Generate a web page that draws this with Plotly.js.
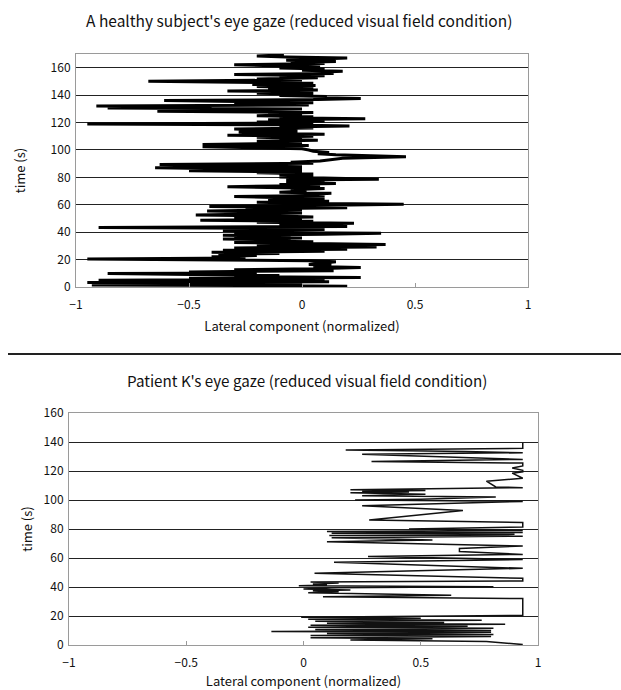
<!DOCTYPE html>
<html>
<head>
<meta charset="utf-8">
<script src="https://cdn.plot.ly/plotly-3.0.1.min.js"></script>
<style>
html,body{margin:0;padding:0;background:#fff;}
#chart{width:621px;height:690px;}
</style>
</head>
<body>
<div id="chart"></div>
<script>
// Healthy subject: lateral gaze component (x) vs time in s (t)
const healthyT = [0.0,0.5,1.0,1.5,2.2,2.8,3.3,3.8,4.5,5.0,5.6,6.3,7.0,7.6,8.3,9.0,9.8,10.3,11.0,11.9,12.6,13.3,14.3,15.0,15.8,16.5,17.3,18.4,19.2,19.8,20.5,21.2,22.0,23.0,23.8,24.5,25.3,26.0,26.8,27.5,28.5,29.2,30.0,31.0,31.7,32.4,33.0,33.7,34.4,35.0,35.7,36.4,37.0,37.8,38.5,39.2,39.8,40.5,41.3,42.0,42.8,43.5,44.2,45.0,45.8,46.5,47.2,48.0,48.7,49.5,50.2,51.0,51.8,52.5,53.2,54.0,54.8,55.5,56.3,57.0,57.8,58.7,59.5,60.3,61.0,61.8,62.5,63.5,64.3,65.2,66.0,66.8,67.6,68.4,69.2,70.0,71.0,71.8,72.5,73.2,74.0,74.8,75.6,76.4,77.2,78.0,78.6,79.4,80.2,81.0,81.8,82.5,83.3,84.0,84.8,85.5,86.3,87.0,87.8,88.6,89.4,90.2,91.0,92.0,93.0,94.0,95.0,95.8,96.5,97.3,98.2,99.0,100.0,100.8,101.6,102.4,103.2,104.0,104.8,105.5,106.3,107.0,107.8,108.5,109.3,110.0,110.8,111.5,112.3,113.0,113.8,114.5,115.2,116.0,116.8,117.5,118.3,119.0,119.7,120.4,121.2,122.0,122.8,123.5,124.3,125.0,125.8,126.6,127.4,128.2,129.0,129.8,130.6,131.4,132.0,132.8,133.6,134.4,135.2,136.0,136.8,137.5,138.3,139.0,139.8,140.6,141.4,142.2,143.0,143.8,144.6,145.4,146.2,147.0,147.8,148.6,149.4,150.2,151.0,151.8,152.6,153.4,154.2,155.0,155.8,156.6,157.4,158.2,159.0,159.8,160.6,161.4,162.2,163.0,163.8,164.6,165.4,166.2,167.0,167.8,168.6,169.3];
const healthyX = [0.05,0.2,-0.1,-0.93,-0.2,0.0,-0.95,0.12,-0.4,-0.9,0.1,-0.5,0.26,-0.3,-0.1,-0.6,-0.86,-0.2,-0.5,0.14,-0.3,0.05,0.26,0.05,0.13,0.03,0.1,0.15,0.03,-0.3,-0.95,-0.25,-0.4,-0.2,-0.37,-0.1,-0.4,0.1,-0.35,0.2,-0.3,0.33,-0.2,0.37,-0.1,-0.3,0.05,-0.25,-0.05,-0.35,0.0,-0.3,-0.05,-0.35,0.1,0.35,-0.3,-0.1,-0.35,0.1,-0.2,-0.9,0.2,-0.1,0.0,0.23,-0.2,0.05,-0.45,0.0,-0.3,0.05,-0.1,-0.47,-0.2,0.0,-0.15,-0.42,0.0,-0.25,0.2,-0.41,0.05,0.45,0.1,-0.2,0.12,-0.15,0.1,-0.1,-0.3,0.1,0.05,0.13,-0.1,0.02,-0.05,0.1,-0.15,-0.33,0.08,-0.1,0.15,-0.07,0.1,-0.07,0.34,0.05,-0.1,0.05,-0.1,0.05,-0.2,0.0,-0.5,0.0,-0.3,-0.65,0.0,-0.3,-0.63,0.05,-0.05,0.08,0.12,0.18,0.46,0.22,0.15,0.07,0.12,0.05,0.03,0.0,-0.3,-0.44,0.03,-0.44,-0.1,0.0,-0.2,0.07,-0.1,0.0,-0.2,0.05,-0.33,0.1,-0.2,-0.28,-0.02,-0.15,-0.3,0.05,-0.1,0.21,-0.1,-0.95,0.05,-0.2,0.1,-0.15,0.28,-0.1,0.05,-0.2,0.0,-0.15,0.05,-0.64,-0.2,0.0,-0.86,-0.4,-0.91,0.03,-0.3,0.05,-0.2,-0.61,0.07,0.26,0.05,0.11,-0.1,0.05,-0.2,0.05,-0.33,0.07,-0.15,0.05,-0.2,0.06,-0.22,0.05,-0.3,-0.68,0.0,-0.2,0.07,-0.1,0.1,-0.3,0.14,0.07,0.18,0.0,0.1,-0.1,0.08,-0.2,-0.3,0.1,-0.05,0.15,-0.07,0.05,0.2,-0.07,-0.2,-0.08];

// Patient K: lateral gaze component (x) vs time in s (t)
const patientT = [0.3,2.5,3.5,4.3,5.0,5.8,6.5,7.3,8.0,8.8,9.3,10.0,10.7,11.5,12.2,13.0,13.6,14.3,15.0,15.6,16.3,17.0,17.7,18.4,19.2,20.4,32.0,33.2,34.3,36.0,36.8,37.5,38.0,38.7,39.5,40.2,40.9,41.3,42.0,42.7,43.5,44.2,46.0,49.4,52.9,57.0,59.0,61.0,62.5,64.4,66.5,68.3,68.3,71.2,72.5,74.0,75.0,75.6,76.3,77.0,77.6,78.2,79.0,80.0,81.3,84.5,86.2,92.8,96.0,99.0,100.0,100.5,102.0,103.0,104.0,105.0,105.5,106.0,106.5,107.0,107.5,108.0,108.5,109.0,113.0,115.0,118.5,119.5,120.5,122.0,123.5,125.5,126.5,128.0,131.5,132.6,133.5,134.5,135.6,139.5,141.4,143.5,146.4];
const patientX = [0.935,0.78,0.2,0.55,0.03,0.8,0.03,0.81,0.1,0.8,-0.137,0.8,0.05,0.81,0.02,0.7,0.03,0.86,0.1,0.6,0.05,0.76,0.02,0.5,-0.01,0.935,0.935,0.083,0.63,0.02,0.15,0.04,0.2,0.0,0.12,0.81,-0.02,0.1,0.04,0.15,0.03,0.935,0.935,0.047,0.935,0.13,0.935,0.275,0.935,0.665,0.665,0.935,0.935,0.1,0.55,0.12,0.935,0.11,0.9,0.12,0.935,0.1,0.935,0.45,0.935,0.935,0.28,0.68,0.25,0.935,0.22,0.5,0.82,0.25,0.52,0.2,0.45,0.25,0.52,0.2,0.54,0.935,0.935,0.82,0.78,0.935,0.89,0.935,0.935,0.89,0.935,0.935,0.29,0.935,0.25,0.935,0.69,0.18,0.935,0.935];

const xTickVals = [-1,-0.5,0,0.5,1];
const xTickText = ['\u22121','\u22120.5','0','0.5','1'];
const yTickVals1 = [0,20,40,60,80,100,120,140,160];
const yTickVals2 = [0,20,40,60,80,100,120,140,160];

const chartTitle1 = "A healthy subject's eye gaze (reduced visual field condition)";
const chartTitle2 = "Patient K's eye gaze (reduced visual field condition)";
const xTitle = "Lateral component (normalized)";
const yTitle = "time (s)";

const FONT = '"Noto Sans CJK JP", "Noto Sans", sans-serif';

const traces = [
  {x: healthyX, y: healthyT, type: 'scatter', mode: 'lines', xaxis: 'x', yaxis: 'y',
   line: {color: '#000', width: 3}, hoverinfo: 'skip', showlegend: false},
  {x: patientX, y: patientT, type: 'scatter', mode: 'lines', xaxis: 'x2', yaxis: 'y2',
   line: {color: '#111', width: 1.5}, hoverinfo: 'skip', showlegend: false}
];

const W = 621, H = 690;
function px(x){ return x / W; }
function py(y){ return 1 - y / H; }

function xAxis(standoff){
  return {
    range: [-1, 1], tickvals: xTickVals, ticktext: xTickText, showgrid: false, zeroline: false,
    showline: true, linecolor: '#9a9a9a', linewidth: 1, mirror: true,
    ticks: 'inside', ticklen: 4, tickcolor: '#9a9a9a', ticklabelstandoff: 7,
    tickfont: {family: FONT, size: 12, color: '#111'},
    title: {text: xTitle, font: {family: FONT, size: 13, color: '#111'}, standoff: standoff},
    fixedrange: true
  };
}
function yAxis(standoff){
  return {
    showgrid: true, gridcolor: '#222', gridwidth: 1, zeroline: false,
    showline: true, linecolor: '#9a9a9a', linewidth: 1, mirror: true,
    ticks: '', ticklabelstandoff: 2, tickfont: {family: FONT, size: 12, color: '#111'},
    title: {text: yTitle, font: {family: FONT, size: 13, color: '#111'}, standoff: standoff},
    fixedrange: true
  };
}

const layout = {
  width: W, height: H,
  margin: {l: 0, r: 0, t: 0, b: 0},
  paper_bgcolor: '#fff', plot_bgcolor: '#fff',
  showlegend: false,
  xaxis: Object.assign(xAxis(10), {domain: [px(76), px(528)], anchor: 'y'}),
  yaxis: Object.assign(yAxis(22), {domain: [py(287), py(54)], anchor: 'x', range: [0, 170], tickvals: yTickVals1}),
  xaxis2: Object.assign(xAxis(23), {domain: [px(69), px(538)], anchor: 'y2'}),
  yaxis2: Object.assign(yAxis(8), {domain: [py(645), py(413)], anchor: 'x2', range: [0, 160], tickvals: yTickVals2}),
  annotations: [
    {text: chartTitle1, xref: 'paper', yref: 'paper', x: px(299), y: py(20), xanchor: 'center', yanchor: 'middle',
     showarrow: false, font: {family: FONT, size: 15.5, color: '#111'}},
    {text: chartTitle2, xref: 'paper', yref: 'paper', x: px(307), y: py(380), xanchor: 'center', yanchor: 'middle',
     showarrow: false, font: {family: FONT, size: 15.2, color: '#111'}}
  ],
  shapes: [
    {type: 'line', xref: 'paper', yref: 'paper', x0: px(8), x1: 1, y0: py(354), y1: py(354),
     line: {color: '#222', width: 2}}
  ]
};

Plotly.newPlot('chart', traces, layout, {staticPlot: true, displayModeBar: false});
</script>
</body>
</html>
